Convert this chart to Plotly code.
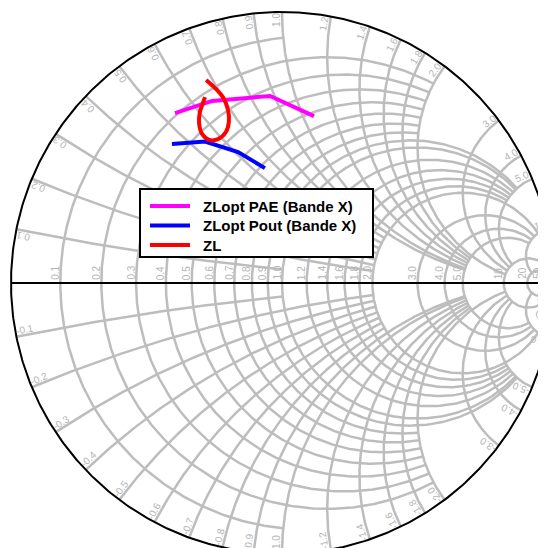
import numpy as np
import plotly.graph_objects as go

# Valeurs de la grille de l'abaque (valeur du cercle, valeur où il s'arrête)
grid_values = [0.1, 0.2, 0.3, 0.4, 0.5, 0.6, 0.7, 0.8, 0.9, 1.0, 1.2, 1.4, 1.6, 1.8, 2.0,
               3.0, 4.0, 5.0, 10, 20, 50]
grid_limits = [1, 2, 2, 2, 2, 2, 2, 2, 5, 5, 5, 5, 5, 5, 10,
               10, 10, 10, 20, 50, np.inf]
grid_labels = ["0.1", "0.2", "0.3", "0.4", "0.5", "0.6", "0.7", "0.8", "0.9", "1.0", "1.2",
               "1.4", "1.6", "1.8", "2.0", "3.0", "4.0", "5.0", "10", "20", "50"]

pae_re = [-0.395, -0.258, -0.044, 0.118]
pae_im = [0.627, 0.672, 0.690, 0.616]

pout_re = [-0.406, -0.284, -0.162, -0.063]
pout_im = [0.513, 0.522, 0.483, 0.424]

zl_re = [-0.280, -0.244, -0.218, -0.199, -0.196, -0.207, -0.236, -0.269, -0.295, -0.306,
         -0.303, -0.292, -0.284]
zl_im = [0.749, 0.716, 0.686, 0.638, 0.594, 0.557, 0.531, 0.528, 0.550, 0.590,
         0.631, 0.664, 0.686]

series_names = ["ZLopt PAE (Bande X)", "ZLopt Pout (Bande X)", "ZL"]
series_colors = ["#ff00ff", "#0000ff", "#ff0000"]

W, H = 546, 548
OFF = 8  # marge du body de la page html
CX, CY, S = 282 - OFF, 283 - OFF, 271  # centre de l'abaque en pixels, rayon
GRID_COL = "#bdbdbd"
LABEL_COL = "#b4b4b4"


def gamma(z):
    return (z - 1) / (z + 1)


# Construction des arcs de la grille
gx, gy = [], []
for v, lim in zip(grid_values, grid_limits):
    # cercle de résistance constante r = v pour |x| <= lim
    phi = np.linspace(-np.arctan(lim), np.arctan(lim), 400)
    g = gamma(v + 1j * np.tan(phi))
    gx += list(g.real) + [None]
    gy += list(g.imag) + [None]
    # arcs de réactance constante x = +/- v pour r <= lim
    psi = np.linspace(0, np.arctan(lim) if np.isfinite(lim) else np.pi / 2 - 1e-4, 300)
    for s in (1, -1):
        g = gamma(np.tan(psi) + 1j * s * v)
        gx += list(g.real) + [None]
        gy += list(g.imag) + [None]

fig = go.Figure()

fig.add_trace(go.Scatter(x=gx, y=gy, mode="lines", line=dict(color=GRID_COL, width=2.5),
                         hoverinfo="skip", showlegend=False))

# Cercle extérieur et axe réel
t = np.linspace(0, 2 * np.pi, 600)
fig.add_trace(go.Scatter(x=np.cos(t), y=np.sin(t), mode="lines",
                         line=dict(color="black", width=2), hoverinfo="skip", showlegend=False))
fig.add_trace(go.Scatter(x=[-1, 1], y=[0, 0], mode="lines",
                         line=dict(color="black", width=2), hoverinfo="skip", showlegend=False))

# Courbes
fig.add_trace(go.Scatter(x=pae_re, y=pae_im, mode="lines", name=series_names[0],
                         line=dict(color=series_colors[0], width=4), showlegend=False))
fig.add_trace(go.Scatter(x=pout_re, y=pout_im, mode="lines", name=series_names[1],
                         line=dict(color=series_colors[1], width=4), showlegend=False))
fig.add_trace(go.Scatter(x=zl_re, y=zl_im, mode="lines", name=series_names[2],
                         line=dict(color=series_colors[2], width=4, shape="spline"),
                         showlegend=False))

# Étiquettes
px = 1.0 / S
annotations = []
for v, lab in zip(grid_values, grid_labels):
    # résistance, sur l'axe réel
    g0 = (v - 1) / (v + 1)
    annotations.append(dict(x=g0 - 5.5 * px, y=10 * px, text=lab, textangle=-90,
                            showarrow=False, xanchor="center", yanchor="middle"))
    # réactance, sur le bord
    for s in (1, -1):
        txt = lab if s > 0 else "-" + lab
        th = np.pi - 2 * np.arctan(v)  # angle du point sur le cercle (moitié haute)
        half = 0.5 * (5.5 * sum(c.isdigit() for c in txt) + 2.8 * txt.count(".")
                      + 3.3 * txt.count("-"))
        if s > 0:
            rim = np.array([np.cos(th), np.sin(th)])
            perp = np.array([-np.sin(th), np.cos(th)])  # côté axe réel
            d = th
        else:
            rim = np.array([np.cos(th), -np.sin(th)])
            perp = np.array([-np.sin(th), -np.cos(th)])
            d = np.pi - th
        c = rim - rim * (half + 1.5) * px + perp * 5.5 * px
        annotations.append(dict(x=c[0], y=c[1], text=txt, textangle=-np.degrees(d),
                                showarrow=False, xanchor="center", yanchor="middle"))

for a in annotations:
    a["font"] = dict(family="Arial, Liberation Sans", size=10, color=LABEL_COL)

# Légende (cadre noir)
def to_paper(x, y):
    return (x - OFF) / W, 1 - (y - OFF) / H

shapes = []
bx0, by0 = to_paper(140, 189)
bx1, by1 = to_paper(373, 257)
shapes.append(dict(type="rect", xref="paper", yref="paper", x0=bx0, x1=bx1, y0=by1, y1=by0,
                   line=dict(color="black", width=2), fillcolor="white", layer="above"))
for i, (name, col) in enumerate(zip(series_names, series_colors)):
    yy = 206 + 19.5 * i
    lx0, ly = to_paper(150, yy)
    lx1, _ = to_paper(190, yy)
    shapes.append(dict(type="line", xref="paper", yref="paper", x0=lx0, x1=lx1, y0=ly, y1=ly,
                       line=dict(color=col, width=4), layer="above"))
    tx, _ = to_paper(201, yy)
    annotations.append(dict(xref="paper", yref="paper", x=tx, y=ly, text=name,
                            showarrow=False, xanchor="left", yanchor="middle",
                            font=dict(family="Arial, Liberation Sans", size=15,
                                      color="black", weight="bold")))

fig.update_layout(
    width=W, height=H,
    margin=dict(l=0, r=0, t=0, b=0, autoexpand=False),
    plot_bgcolor="white", paper_bgcolor="white",
    xaxis=dict(range=[(0 - CX) / S, (W - CX) / S], visible=False),
    yaxis=dict(range=[(CY - H) / S, CY / S], visible=False),
    annotations=annotations,
    shapes=shapes,
    showlegend=False,
)

fig.write_html("out.html")
